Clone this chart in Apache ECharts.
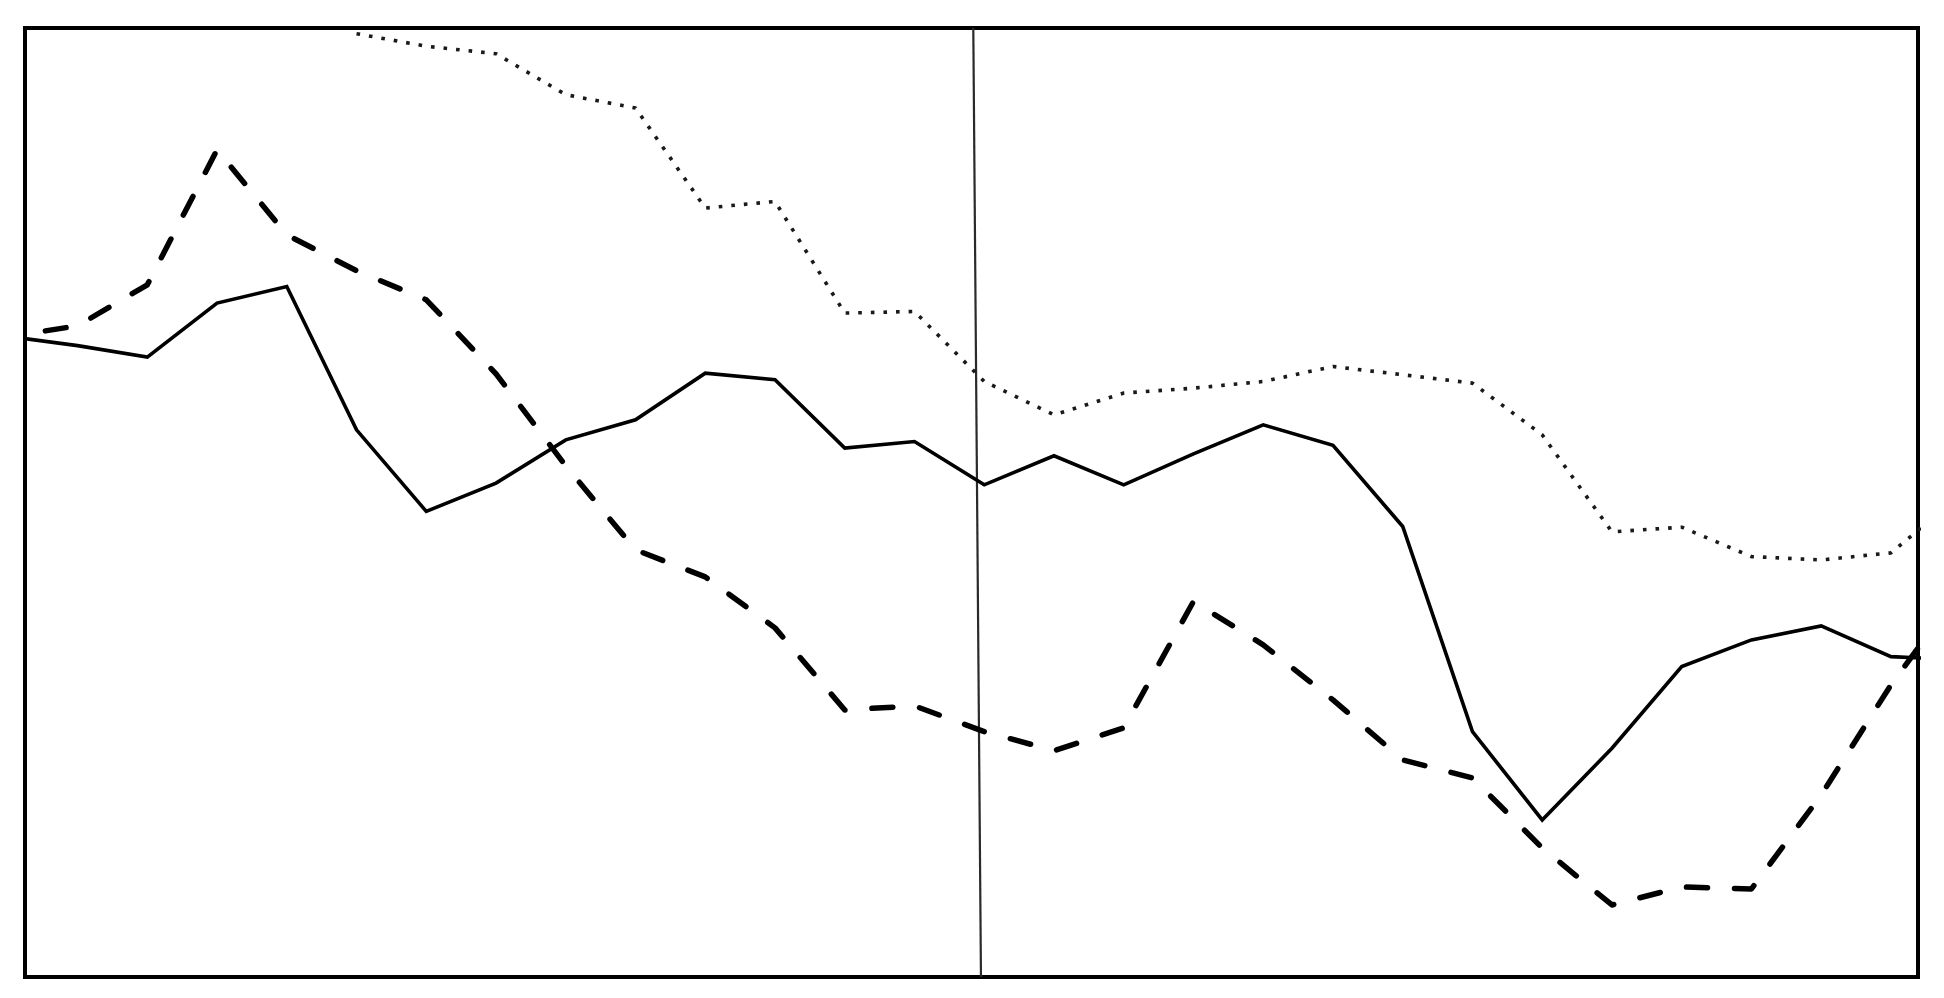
<!DOCTYPE html>
<html>
<head>
<meta charset="utf-8">
<script src="https://cdn.jsdelivr.net/npm/echarts@6/dist/echarts.min.js"></script>
<style>
  html, body { margin: 0; padding: 0; background: #fff; }
  #chart { width: 1944px; height: 998px; }
</style>
</head>
<body>
<div id="chart"></div>
<script>
// x positions (period index)
const periods = [0,1,2,3,4,5,6,7,8,9,10,11,12,13,14,15,16,17,18,19,20,21,22,23,24,25,26,27,28];

// series values (0-100 scale)
const solidValues = [67.50,66.53,65.32,71.01,72.76,57.66,49.07,52.04,56.60,58.71,63.63,62.93,55.73,56.42,51.86,54.92,51.86,55.13,58.18,56.02,47.47,25.86,16.55,24.11,32.71,35.52,37.00,33.76,33.41];
const dashedValues = [67.46,68.62,72.94,87.17,78.21,74.42,71.36,63.56,53.86,45.01,42.16,36.79,28.14,28.57,25.86,23.85,26.25,39.58,35.00,29.20,22.87,20.98,13.60,7.59,9.49,9.28,19.18,30.78,40.79];
const dottedValues = [null,null,null,null,null,99.40,98.08,97.29,92.97,91.57,81.03,81.72,69.96,70.13,62.75,59.24,61.53,62.05,62.75,64.33,63.46,62.58,57.13,46.91,47.40,44.30,43.95,44.69,50.81];

// reference (event) line: x at top and at bottom of the plot
const eventLineX = [13.843, 13.953];
const yRange = [0, 100];
const xRange = [0.2465, 27.388];

function pairs(xs, ys) {
  return xs.map((x, i) => [x, ys[i]]);
}

const chart = echarts.init(document.getElementById('chart'), null, { renderer: 'canvas' });
chart.setOption({
  animation: false,
  backgroundColor: '#ffffff',
  grid: {
    left: 25, right: 26, top: 28, bottom: 21,
    show: true, borderColor: '#000000', borderWidth: 4, backgroundColor: 'transparent'
  },
  xAxis: {
    type: 'value', min: xRange[0], max: xRange[1],
    axisLine: { show: false }, axisTick: { show: false },
    axisLabel: { show: false }, splitLine: { show: false }
  },
  yAxis: {
    type: 'value', min: yRange[0], max: yRange[1],
    axisLine: { show: false }, axisTick: { show: false },
    axisLabel: { show: false }, splitLine: { show: false }
  },
  series: [
    {
      type: 'line', name: 'event', showSymbol: false, clip: true, z: 1,
      data: [[eventLineX[0], yRange[1]], [eventLineX[1], yRange[0]]],
      lineStyle: { color: '#2a2a2a', width: 2.2 }
    },
    {
      type: 'line', name: 'dotted', showSymbol: false, clip: true, z: 2,
      data: pairs(periods, dottedValues),
      lineStyle: { color: '#1a1a1a', width: 3.6, type: [3.6, 9], cap: 'butt' }
    },
    {
      type: 'line', name: 'dashed', showSymbol: false, clip: true, z: 3,
      data: pairs(periods, dashedValues),
      lineStyle: { color: '#000000', width: 5.5, type: [21, 27], dashOffset: 10, cap: 'round', join: 'round' }
    },
    {
      type: 'line', name: 'solid', showSymbol: false, clip: true, z: 4,
      data: pairs(periods, solidValues),
      lineStyle: { color: '#000000', width: 3.6, join: 'miter' }
    }
  ]
});
</script>
</body>
</html>
